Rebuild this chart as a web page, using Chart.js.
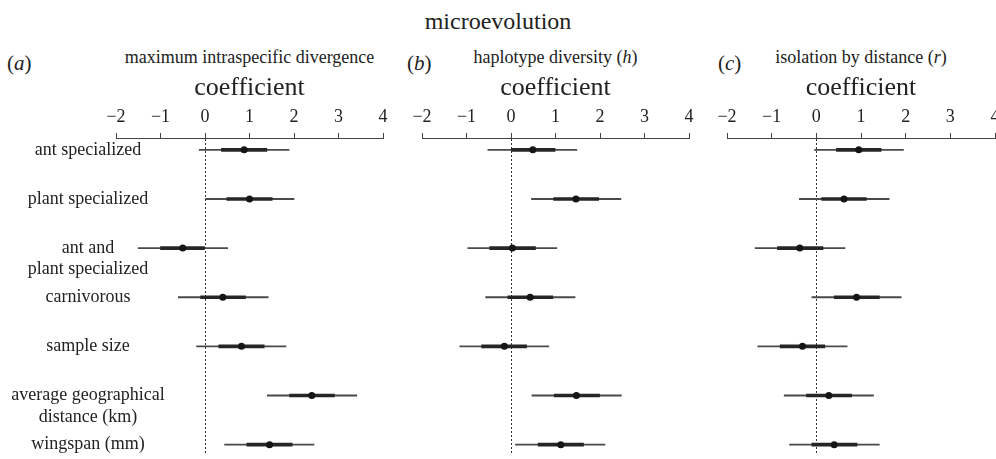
<!DOCTYPE html>
<html><head><meta charset="utf-8">
<script src="https://cdn.jsdelivr.net/npm/chart.js@4"></script>
<style>
html,body{margin:0;padding:0;background:#fff;}
body{width:996px;height:459px;position:relative;overflow:hidden;font-family:"Liberation Serif","Times New Roman",serif;color:#222;}
.t{position:absolute;white-space:nowrap;line-height:1;}
.sub{width:320px;text-align:center;font-size:18px;top:48px;}
canvas{position:absolute;top:0;}
</style></head><body>
<div class="t" style="left:0;width:996px;text-align:center;top:9px;font-size:24px;">microevolution</div>
<div class="t" style="left:7px;top:53px;font-size:21px;">(<i>a</i>)</div>
<div class="t" style="left:407px;top:53px;font-size:21px;">(<i>b</i>)</div>
<div class="t" style="left:718px;top:53px;font-size:21px;">(<i>c</i>)</div>
<div class="t sub" style="left:89.5px;">maximum intraspecific divergence</div>
<div class="t sub" style="left:395.5px;">haplotype diversity (<i>h</i>)</div>
<div class="t sub" style="left:701px;">isolation by distance (<i>r</i>)</div>
<canvas id="ca" width="392" height="459" style="left:0;"></canvas>
<canvas id="cb" width="296" height="459" style="left:400px;"></canvas>
<canvas id="cc" width="300" height="459" style="left:705px;"></canvas>
<script>
// ---- data ----
const categories = [
  'ant specialized',
  'plant specialized',
  'ant and\nplant specialized',
  'carnivorous',
  'sample size',
  'average geographical\ndistance (km)',
  'wingspan (mm)'
];
const xTicks = [-2, -1, 0, 1, 2, 3, 4];

// (a) maximum intraspecific divergence
const divEst  = [0.88, 1.00, -0.50, 0.40, 0.82, 2.40, 1.45];
const divLo50 = [0.37, 0.49, -1.00, -0.10, 0.31, 1.90, 0.94];
const divHi50 = [1.39, 1.51, 0.00, 0.91, 1.33, 2.91, 1.96];
const divLo95 = [-0.13, 0.00, -1.50, -0.60, -0.19, 1.40, 0.44];
const divHi95 = [1.89, 2.00, 0.51, 1.42, 1.82, 3.41, 2.45];

// (b) haplotype diversity (h)
const hapEst  = [0.49, 1.46, 0.03, 0.43, -0.15, 1.47, 1.12];
const hapLo50 = [0.00, 0.96, -0.48, -0.07, -0.66, 0.97, 0.61];
const hapHi50 = [0.99, 1.97, 0.55, 0.94, 0.35, 1.99, 1.63];
const hapLo95 = [-0.52, 0.46, -0.97, -0.57, -1.15, 0.47, 0.10];
const hapHi95 = [1.48, 2.47, 1.03, 1.44, 0.85, 2.48, 2.11];

// (c) isolation by distance (r)
const ibdEst  = [0.95, 0.62, -0.37, 0.90, -0.31, 0.28, 0.40];
const ibdLo50 = [0.45, 0.12, -0.87, 0.40, -0.81, -0.22, -0.10];
const ibdHi50 = [1.45, 1.12, 0.15, 1.41, 0.19, 0.79, 0.91];
const ibdLo95 = [-0.04, -0.38, -1.37, -0.10, -1.31, -0.72, -0.60];
const ibdHi95 = [1.95, 1.63, 0.64, 1.90, 0.69, 1.28, 1.41];

const FONT = '"Liberation Serif","Times New Roman",serif';
Chart.defaults.font.family = FONT;
Chart.defaults.color = '#222';

// widest category line, to centre the labels around x = 88
const mctx = document.createElement('canvas').getContext('2d');
mctx.font = '18px ' + FONT;
let widest = 0;
categories.forEach(c => c.split('\n').forEach(l => { widest = Math.max(widest, mctx.measureText(l).width); }));
const AXIS_LEFT = 116, LABEL_CENTER = 88;

function makePanel(id, est, lo50, hi50, lo95, hi95, showLabels, padLeft, padRight) {
  const yScale = {
    type: 'linear', reverse: true, min: -0.241, max: 6.211, offset: false,
    display: showLabels,
    grid: { display: false, drawTicks: false, offset: false },
    border: { display: false },
    afterBuildTicks: s => { s.ticks = categories.map((c, i) => ({ value: i })); },
    ticks: {
      autoSkip: false, mirror: true, crossAlign: 'center',
      padding: LABEL_CENTER - AXIS_LEFT - widest / 2, color: '#222',
      font: { size: 18, lineHeight: 1.2 },
      callback: v => {
        const lines = categories[v].split('\n');
        return lines.length > 1 ? [''].concat(lines) : lines[0];
      }
    }
  };
  if (showLabels) yScale.afterFit = s => { s.width = AXIS_LEFT; };

  return new Chart(document.getElementById(id), {
    type: 'bar',
    data: {
      datasets: [
        { type: 'line', label: 'estimate', data: est.map((v, i) => ({ x: v, y: i })),
          showLine: false, pointRadius: 3.5, pointBackgroundColor: '#151515',
          pointBorderWidth: 0, order: 0 },
        { label: 'inner', data: lo50.map((v, i) => ({ x: [v, hi50[i]], y: i })),
          backgroundColor: '#262626', barThickness: 3, grouped: false, order: 1 },
        { label: 'outer', data: lo95.map((v, i) => ({ x: [v, hi95[i]], y: i })),
          backgroundColor: '#4a4a4a', barThickness: 1.2, grouped: false, order: 2 }
      ]
    },
    options: {
      indexAxis: 'y', responsive: false, animation: false,
      layout: { padding: { left: padLeft, right: padRight, top: 0, bottom: 0 } },
      plugins: { legend: { display: false }, tooltip: { enabled: false } },
      scales: {
        x: {
          type: 'linear', position: 'top', min: xTicks[0], max: xTicks[xTicks.length - 1],
          afterBuildTicks: s => { s.ticks = xTicks.map(v => ({ value: v })); },
          ticks: { padding: 5, color: '#222', font: { size: 18 },
            callback: v => v < 0 ? '\u2212' + Math.abs(v) : String(v) },
          grid: { color: c => (c.tick && c.tick.value === 0) ? '#333' : 'rgba(0,0,0,0)',
            lineWidth: 1, drawTicks: true, tickLength: 5, tickColor: '#444' },
          border: { display: true, color: '#444', width: 1, dash: [2, 2] },
          title: { display: true, text: 'coefficient', color: '#222', font: { size: 26 },
            padding: { top: 73, bottom: 0 } },
          afterFit: s => { s.height = 138; s.paddingLeft = 0; s.paddingRight = 0; }
        },
        y: yScale
      }
    }
  });
}

makePanel('ca', divEst, divLo50, divHi50, divLo95, divHi95, true, 0, 9);
makePanel('cb', hapEst, hapLo50, hapHi50, hapLo95, hapHi95, false, 22, 7);
makePanel('cc', ibdEst, ibdLo50, ibdHi50, ibdLo95, ibdHi95, false, 22, 10);
</script>
</body></html>
